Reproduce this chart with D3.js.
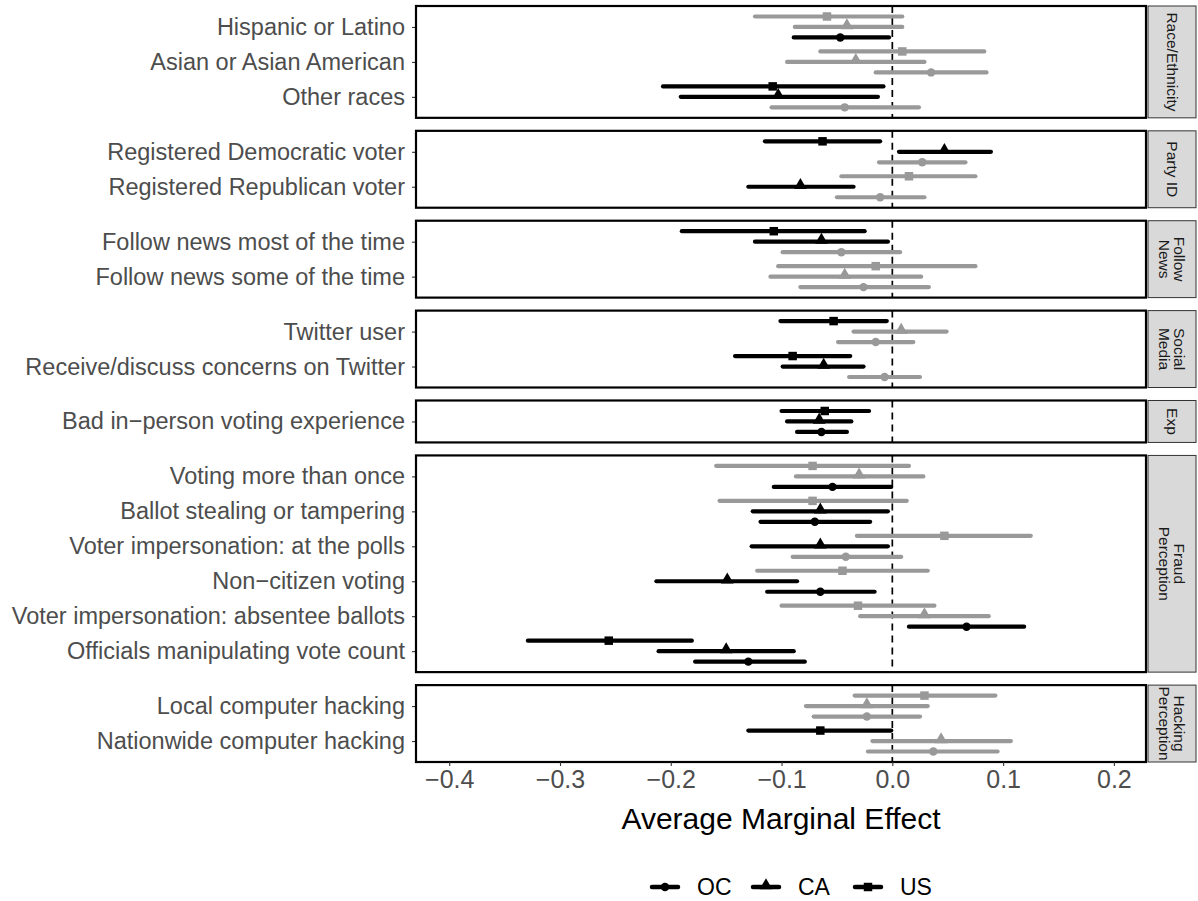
<!DOCTYPE html>
<html><head><meta charset="utf-8">
<script src="https://cdn.jsdelivr.net/npm/d3@7"></script>
<style>body{margin:0;background:#fff} text{font-family:"Liberation Sans",Arial,Helvetica,sans-serif}</style>
</head><body><svg id="chart" width="1198" height="901"></svg>
<script>
// ---------- data ----------
const categories = ["Hispanic or Latino","Asian or Asian American","Other races",
  "Registered Democratic voter","Registered Republican voter",
  "Follow news most of the time","Follow news some of the time",
  "Twitter user","Receive/discuss concerns on Twitter",
  "Bad in\u2212person voting experience",
  "Voting more than once","Ballot stealing or tampering","Voter impersonation: at the polls",
  "Non\u2212citizen voting","Voter impersonation: absentee ballots","Officials manipulating vote count",
  "Local computer hacking","Nationwide computer hacking"];
const panelOf = [0,0,0,1,1,2,2,3,3,4,5,5,5,5,5,5,6,6];
const panelLabels = [["Race/Ethnicity"],["Party ID"],["Follow","News"],["Social","Media"],["Exp"],["Fraud","Perception"],["Hacking","Perception"]];
const seriesNames = ["US","CA","OC"];
const legendOrder = ["OC","CA","US"];

const usEst = [-0.059,0.009,-0.108,-0.063,0.015,-0.107,-0.015,-0.053,-0.090,-0.061,-0.072,-0.072,0.047,-0.045,-0.031,-0.256,0.029,-0.065];
const usLo  = [-0.124,-0.065,-0.207,-0.115,-0.046,-0.190,-0.103,-0.101,-0.142,-0.100,-0.159,-0.156,-0.032,-0.122,-0.100,-0.329,-0.034,-0.130];
const usHi  = [0.009,0.083,-0.008,-0.011,0.075,-0.025,0.075,-0.005,-0.038,-0.021,0.015,0.013,0.125,0.032,0.038,-0.181,0.093,-0.001];

const caEst = [-0.041,-0.033,-0.103,0.047,-0.083,-0.064,-0.043,0.008,-0.062,-0.066,-0.030,-0.065,-0.065,-0.149,0.029,-0.150,-0.023,0.044];
const caLo  = [-0.088,-0.095,-0.191,0.006,-0.130,-0.124,-0.110,-0.035,-0.099,-0.095,-0.087,-0.126,-0.127,-0.213,-0.029,-0.211,-0.078,-0.018];
const caHi  = [0.009,0.029,-0.013,0.089,-0.035,-0.004,0.026,0.049,-0.026,-0.037,0.028,-0.004,-0.004,-0.086,0.087,-0.089,0.032,0.107];

const ocEst = [-0.047,0.035,-0.043,0.027,-0.011,-0.046,-0.026,-0.015,-0.007,-0.064,-0.054,-0.070,-0.042,-0.065,0.067,-0.130,-0.023,0.037];
const ocLo  = [-0.089,-0.015,-0.109,-0.012,-0.050,-0.099,-0.083,-0.049,-0.039,-0.086,-0.107,-0.119,-0.090,-0.113,0.015,-0.178,-0.071,-0.022];
const ocHi  = [-0.003,0.085,0.024,0.066,0.029,0.007,0.033,0.019,0.025,-0.041,-0.001,-0.020,0.008,-0.016,0.119,-0.079,0.025,0.095];

const xTicks = [-0.4,-0.3,-0.2,-0.1,0.0,0.1,0.2];

// ---------- build rows ----------
const seriesData = {US:[usEst,usLo,usHi], CA:[caEst,caLo,caHi], OC:[ocEst,ocLo,ocHi]};
const rows = [];
categories.forEach((c,i)=>{
  seriesNames.forEach(s=>{
    const [e,l,h] = seriesData[s];
    rows.push({cat:c, panel:panelOf[i], series:s, est:e[i], lo:l[i], hi:h[i]});
  });
});

// ---------- layout ----------
const svg = d3.select("#chart");
const pLeft = 416, pRight = 1146, pTop = 6, pBottom = 762, pGap = 13;
const nPanels = panelLabels.length;
const counts = d3.range(nPanels).map(p => panelOf.filter(v=>v===p).length);
const unit = (pBottom - pTop - pGap*(nPanels-1)) / d3.sum(counts, n => n + 0.2);

const x = d3.scaleLinear().domain([-0.43, 0.229]).range([pLeft, pRight]);
const black = "#000000", grey = "#999999";
const offsets = {US:-0.3, CA:0, OC:0.3};
const shapes = {US:d3.symbolSquare, CA:d3.symbolTriangle, OC:d3.symbolCircle};
const sizes = {US:72, CA:70, OC:56};

let y0 = pTop;
d3.range(nPanels).forEach(p=>{
  const h = (counts[p] + 0.2) * unit;
  const cats = categories.filter((c,i)=>panelOf[i]===p);
  const y = d3.scalePoint().domain(cats).range([y0, y0+h]).padding(0.6);
  const step = cats.length > 1 ? y.step() : unit;
  const g = svg.append("g");

  // y axis
  const ax = g.append("g").attr("transform",`translate(${pLeft},0)`)
    .call(d3.axisLeft(y).tickSize(4).tickPadding(7));
  ax.select(".domain").remove();
  ax.selectAll(".tick line").attr("stroke","#333").attr("stroke-width",1.1);
  ax.selectAll(".tick text").attr("fill","#4d4d4d").style("font-size","23.5px");

  // zero line
  g.append("line").attr("x1",x(0)).attr("x2",x(0)).attr("y1",y0).attr("y2",y0+h)
    .attr("stroke","#000").attr("stroke-width",1.7).attr("stroke-dasharray","7,5");

  const pr = rows.filter(r=>r.panel===p);
  pr.forEach(r=>{
    const yy = y(r.cat) + offsets[r.series]*step;
    const col = (r.hi < 0 || r.lo > 0) ? black : grey;
    g.append("line").attr("x1",x(r.lo)).attr("x2",x(r.hi)).attr("y1",yy).attr("y2",yy)
      .attr("stroke",col).attr("stroke-width",4.2).attr("stroke-linecap","round");
    g.append("path").attr("d",d3.symbol(shapes[r.series],sizes[r.series])())
      .attr("transform",`translate(${x(r.est)},${yy + (r.series==="CA"?-1.5:0)})`).attr("fill",col);
  });

  // panel border
  g.append("rect").attr("x",pLeft).attr("y",y0).attr("width",pRight-pLeft).attr("height",h)
    .attr("fill","none").attr("stroke","#000").attr("stroke-width",2.2);

  // strip
  g.append("rect").attr("x",1148).attr("y",y0).attr("width",48).attr("height",h)
    .attr("fill","#d9d9d9").attr("stroke","#333").attr("stroke-width",1);
  const lines = panelLabels[p];
  const cx = 1172, cy = y0 + h/2;
  const t = g.append("text").attr("transform",`translate(${cx},${cy}) rotate(90)`)
    .attr("text-anchor","middle").attr("fill","#1a1a1a").style("font-size","15.5px");
  const lh = 15;
  lines.forEach((ln,k)=>{
    t.append("tspan").attr("x",0).attr("y", (k - (lines.length-1)/2)*lh).attr("dy","0.35em").text(ln);
  });

  if (p === nPanels-1) {
    const xa = svg.append("g").attr("transform",`translate(0,${y0+h})`)
      .call(d3.axisBottom(x).tickValues(xTicks).tickFormat(d3.format(".1f")).tickSize(4).tickPadding(4));
    xa.select(".domain").remove();
    xa.selectAll(".tick line").attr("stroke","#333").attr("stroke-width",1.1);
    xa.selectAll(".tick text").attr("fill","#4d4d4d").style("font-size","25px");
  }
  y0 += h + pGap;
});

// axis title
svg.append("text").attr("x",(pLeft+pRight)/2).attr("y",829).attr("text-anchor","middle")
  .attr("fill","#000").style("font-size","30px").text("Average Marginal Effect");

// legend
const legX = {OC:649, CA:750, US:852};
legendOrder.forEach(s=>{
  const lg = svg.append("g").attr("transform",`translate(${legX[s]},887)`);
  lg.append("line").attr("x1",3).attr("x2",29).attr("y1",0).attr("y2",0)
    .attr("stroke","#000").attr("stroke-width",4.5).attr("stroke-linecap","round");
  lg.append("path").attr("d",d3.symbol(shapes[s],sizes[s])()).attr("transform",`translate(16,${s==="CA"?-1.5:0})`).attr("fill","#000");
  lg.append("text").attr("x",48).attr("y",0).attr("dy","0.35em").style("font-size","23px").attr("fill","#000").text(s);
});
</script></body></html>
